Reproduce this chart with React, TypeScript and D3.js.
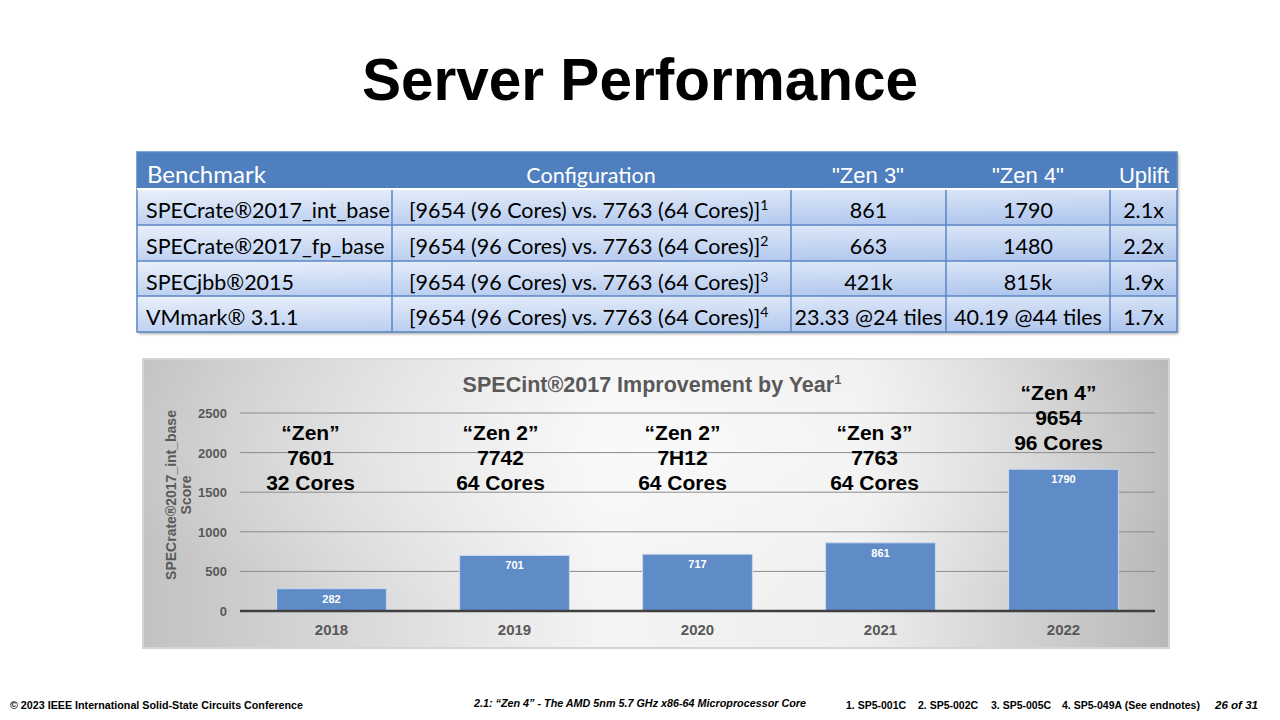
import React from 'react';
import * as d3 from 'd3';

// table data
const tableHeader = ['Benchmark', 'Configuration', '"Zen 3"', '"Zen 4"', 'Uplift'];
const benchmarks = ['SPECrate®2017_int_base', 'SPECrate®2017_fp_base', 'SPECjbb®2015', 'VMmark® 3.1.1'];
const configs = ['[9654 (96 Cores) vs. 7763 (64 Cores)]', '[9654 (96 Cores) vs. 7763 (64 Cores)]', '[9654 (96 Cores) vs. 7763 (64 Cores)]', '[9654 (96 Cores) vs. 7763 (64 Cores)]'];
const configNotes = ['1', '2', '3', '4'];
const zen3Scores = ['861', '663', '421k', '23.33 @24 tiles'];
const zen4Scores = ['1790', '1480', '815k', '40.19 @44 tiles'];
const uplifts = ['2.1x', '2.2x', '1.9x', '1.7x'];

// chart data
const years = ['2018', '2019', '2020', '2021', '2022'];
const scores = [282, 701, 717, 861, 1790];
const yTicks = [0, 500, 1000, 1500, 2000, 2500];
const chipNames = ['“Zen”', '“Zen 2”', '“Zen 2”', '“Zen 3”', '“Zen 4”'];
const chipModels = ['7601', '7742', '7H12', '7763', '9654'];
const chipCores = ['32 Cores', '64 Cores', '64 Cores', '64 Cores', '96 Cores'];

// footer
const endnotes = ['1. SP5-001C', '2. SP5-002C', '3. SP5-005C', '4. SP5-049A (See endnotes)'];

const W = 1280;
const H = 720;

// table layout
const tableX = [137, 392, 791, 946, 1110, 1177];
const tableY = [152, 189, 225, 261, 296, 332];

// chart layout
const panel = { x: 143, y: 359, w: 1026, h: 289 };
const plot = { left: 240, right: 1155, top: 413, bottom: 611 };
const annoDx = [-21, -14, -15, -6, -5];
const annoTop = [440, 440, 440, 440, 400];
const endnoteX = [846, 918, 991, 1062];

const App: React.FC = () => {
  const x = d3.scaleBand<string>().domain(years).range([plot.left, plot.right]).paddingInner(0.4).paddingOuter(0.2);
  const y = d3.scaleLinear().domain([0, 2500]).range([plot.bottom, plot.top]);

  const sans = 'Liberation Sans, Arial, sans-serif';
  const body = 'Lato, sans-serif';

  return (
    <svg width={W} height={H} style={{ position: 'absolute', left: 0, top: 0, background: '#fff' }}>
      <defs>
        <linearGradient id="rowGrad" x1="0" y1="0" x2="0" y2="1">
          <stop offset="0" stopColor="#e6eefa" />
          <stop offset="1" stopColor="#b3c9ef" />
        </linearGradient>
        <linearGradient id="rowGradH" x1="0" y1="0" x2="1" y2="0">
          <stop offset="0" stopColor="#ffffff" stopOpacity="0.15" />
          <stop offset="1" stopColor="#7fa2dc" stopOpacity="0.15" />
        </linearGradient>
        <linearGradient id="panelGrad" x1="0" y1="0" x2="1" y2="0">
          <stop offset="0" stopColor="#c2c2c2" />
          <stop offset="0.45" stopColor="#f4f4f4" />
          <stop offset="0.7" stopColor="#eeeeee" />
          <stop offset="1" stopColor="#b8b8b8" />
        </linearGradient>
        <radialGradient id="panelGlow" cx="0.5" cy="0.3" r="0.6">
          <stop offset="0" stopColor="#ffffff" stopOpacity="0.5" />
          <stop offset="1" stopColor="#ffffff" stopOpacity="0" />
        </radialGradient>
        <filter id="shadow" x="-5%" y="-5%" width="110%" height="120%">
          <feDropShadow dx="1.5" dy="2" stdDeviation="1.5" floodColor="#000" floodOpacity="0.35" />
        </filter>
      </defs>

      {/* title */}
      <text x={640} y={100} textAnchor="middle" fontFamily={sans} fontWeight="bold" fontSize={58.5} fill="#000">
        Server Performance
      </text>

      {/* table */}
      <g>
        <rect x={tableX[0]} y={tableY[0]} width={tableX[5] - tableX[0]} height={tableY[5] - tableY[0]} fill="#fff" filter="url(#shadow)" />
        <rect x={tableX[0]} y={tableY[0]} width={tableX[5] - tableX[0]} height={tableY[1] - tableY[0]} fill="#4f7fbe" />
        {benchmarks.map((b, i) => (
          <g key={b}>
            <rect x={tableX[0]} y={tableY[i + 1]} width={tableX[5] - tableX[0]} height={tableY[i + 2] - tableY[i + 1]} fill="url(#rowGrad)" />
            <rect x={tableX[0]} y={tableY[i + 1]} width={tableX[5] - tableX[0]} height={tableY[i + 2] - tableY[i + 1]} fill="url(#rowGradH)" />
          </g>
        ))}
        {tableY.slice(1, 5).map((yy) => (
          <line key={'h' + yy} x1={tableX[0]} x2={tableX[5]} y1={yy} y2={yy} stroke="#5b86c5" strokeWidth={1.5} />
        ))}
        {tableX.slice(1, 5).map((xx) => (
          <line key={'v' + xx} x1={xx} x2={xx} y1={tableY[1]} y2={tableY[5]} stroke="#5b86c5" strokeWidth={1.5} />
        ))}
        <rect x={tableX[0]} y={tableY[0]} width={tableX[5] - tableX[0]} height={tableY[5] - tableY[0]} fill="none" stroke="#5b86c5" strokeWidth={1.5} />
        <line x1={tableX[0]} x2={tableX[5]} y1={tableY[1]} y2={tableY[1]} stroke="#fff" strokeWidth={2} />

        {/* header */}
        <text x={tableX[0] + 10} y={183} fontFamily={body} fontSize={24} fill="#fff">{tableHeader[0]}</text>
        <text x={591} y={183} textAnchor="middle" fontFamily={body} fontSize={21.5} fill="#fff">{tableHeader[1]}</text>
        <text x={868} y={183} textAnchor="middle" fontFamily={sans} fontSize={22} fill="#fff">{tableHeader[2]}</text>
        <text x={1028} y={183} textAnchor="middle" fontFamily={sans} fontSize={22} fill="#fff">{tableHeader[3]}</text>
        <text x={1144} y={183} textAnchor="middle" fontFamily={sans} fontSize={22} fill="#fff">{tableHeader[4]}</text>

        {benchmarks.map((b, i) => {
          const cy = (tableY[i + 1] + tableY[i + 2]) / 2 + 11;
          return (
            <g key={'r' + i} fontFamily={body} fontSize={21.5} fill="#000">
              <text x={tableX[0] + 9} y={cy}>{b}</text>
              <text x={tableX[1] + 17} y={cy}>
                {configs[i]}
                <tspan fontSize={14} dy={-8}>{configNotes[i]}</tspan>
              </text>
              <text x={(tableX[2] + tableX[3]) / 2} y={cy} textAnchor="middle">{zen3Scores[i]}</text>
              <text x={(tableX[3] + tableX[4]) / 2} y={cy} textAnchor="middle">{zen4Scores[i]}</text>
              <text x={(tableX[4] + tableX[5]) / 2} y={cy} textAnchor="middle">{uplifts[i]}</text>
            </g>
          );
        })}
      </g>

      {/* chart panel */}
      <rect x={panel.x} y={panel.y} width={panel.w} height={panel.h} fill="url(#panelGrad)" stroke="#d4d4d4" strokeWidth={2} />
      <rect x={panel.x} y={panel.y} width={panel.w} height={panel.h} fill="url(#panelGlow)" />

      <text x={652} y={392} textAnchor="middle" fontFamily={sans} fontWeight="bold" fontSize={21.5} fill="#595959">
        SPECint®2017 Improvement by Year<tspan fontSize={13} dy={-8}>1</tspan>
      </text>

      {yTicks.map((t) => (
        <g key={'t' + t}>
          {t > 0 && <line x1={plot.left} x2={plot.right} y1={y(t)} y2={y(t)} stroke="#8c8c8c" strokeWidth={1} />}
          <text x={227} y={y(t) + 5} textAnchor="end" fontFamily={sans} fontWeight="bold" fontSize={13} fill="#595959">{t}</text>
        </g>
      ))}

      <g transform={`translate(176, 495) rotate(-90)`} fontFamily={sans} fontWeight="bold" fontSize={14} fill="#595959" textAnchor="middle">
        <text x={0} y={0}>SPECrate®2017_int_base</text>
        <text x={0} y={15}>Score</text>
      </g>

      {years.map((yr, i) => (
        <g key={yr}>
          <rect x={x(yr)!} y={y(scores[i])} width={x.bandwidth()} height={y(0) - y(scores[i])} fill="#5f8cc7" stroke="#c9d9f0" strokeWidth={1} />
          <text x={x(yr)! + x.bandwidth() / 2} y={y(scores[i]) + 14} textAnchor="middle" fontFamily={sans} fontWeight="bold" fontSize={11} fill="#fff">
            {scores[i]}
          </text>
          <text x={x(yr)! + x.bandwidth() / 2} y={635} textAnchor="middle" fontFamily={sans} fontWeight="bold" fontSize={15} fill="#595959">
            {yr}
          </text>
        </g>
      ))}
      <line x1={plot.left} x2={plot.right} y1={y(0)} y2={y(0)} stroke="#404040" strokeWidth={2.5} />

      {years.map((yr, i) => {
        const cx = x(yr)! + x.bandwidth() / 2 + annoDx[i];
        return (
          <text key={'a' + yr} x={cx} y={annoTop[i]} textAnchor="middle" fontFamily={sans} fontWeight="bold" fontSize={21} fill="#000">
            <tspan x={cx} dy={0}>{chipNames[i]}</tspan>
            <tspan x={cx} dy={25}>{chipModels[i]}</tspan>
            <tspan x={cx} dy={25}>{chipCores[i]}</tspan>
          </text>
        );
      })}

      {/* footer */}
      <g fontFamily={sans} fontWeight="bold" fontSize={10.5} fill="#000">
        <text x={10} y={709} textLength={293} lengthAdjust="spacingAndGlyphs">© 2023 IEEE International Solid-State Circuits Conference</text>
        <text x={474} y={707} fontStyle="italic" textLength={332} lengthAdjust="spacingAndGlyphs">2.1: “Zen 4” - The AMD 5nm 5.7 GHz x86-64 Microprocessor Core</text>
        {endnotes.map((n, i) => (
          <text key={n} x={endnoteX[i]} y={709}>{n}</text>
        ))}
        <text x={1215} y={709} fontStyle="italic" fontSize={11.5} textLength={43} lengthAdjust="spacingAndGlyphs">26 of 31</text>
      </g>
    </svg>
  );
};

export default App;
